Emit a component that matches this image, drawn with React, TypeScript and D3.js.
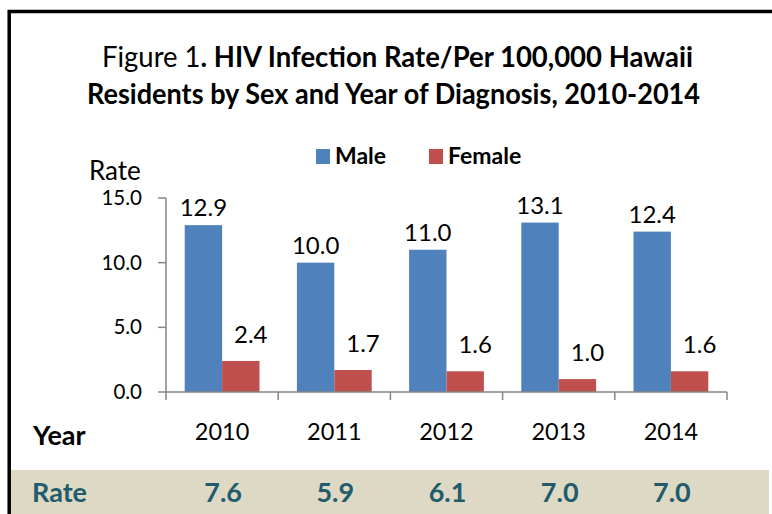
import * as d3 from 'd3';

const years = ['2010', '2011', '2012', '2013', '2014'];
const series = ['Male', 'Female'];
const maleRates = [12.9, 10.0, 11.0, 13.1, 12.4];
const femaleRates = [2.4, 1.7, 1.6, 1.0, 1.6];
const totalRates = [7.6, 5.9, 6.1, 7.0, 7.0];
const yTicks = [0, 5, 10, 15];

const colors: Record<string, string> = { Male: '#4F81BD', Female: '#C0504D' };
const FONT = "Lato, 'Open Sans', sans-serif";
const AXIS = '#868686';
const TEAL = '#225B6B';

export default function App() {
  const width = 772;
  const height = 514;

  // scales
  const x0 = d3.scaleBand<string>().domain(years).range([166, 727]);
  const x1 = d3
    .scaleBand<string>()
    .domain(series)
    .range([0, x0.bandwidth()])
    .paddingInner(0)
    .paddingOuter(0.5);
  const y = d3.scaleLinear().domain([0, 15]).range([392, 198]);
  const fmt = d3.format('.1f');

  const values: Record<string, number[]> = { Male: maleRates, Female: femaleRates };
  const boundaries = [...years.map((yr) => x0(yr) as number), 727];

  return (
    <svg
      width={width}
      height={height}
      style={{ position: 'absolute', left: 0, top: 0, background: '#fff' }}
      fontFamily={FONT}
    >
      {/* outer frame */}
      <rect x={9.2} y={11.5} width={800} height={540} fill="#fff" stroke="#000" strokeWidth={3.5} />

      {/* title */}
      <text x={397.5} y={67} textAnchor="middle" fontSize={28} textLength={591} lengthAdjust="spacingAndGlyphs">
        <tspan>Figure 1</tspan>
        <tspan fontWeight="bold">.  HIV Infection Rate/Per 100,000 Hawaii</tspan>
      </text>
      <text
        x={393.5}
        y={104}
        textAnchor="middle"
        fontSize={28}
        fontWeight="bold"
        textLength={613}
        lengthAdjust="spacingAndGlyphs"
      >
        Residents by Sex and Year of Diagnosis, 2010-2014
      </text>

      {/* legend */}
      <rect x={316} y={149} width={14} height={15} fill={colors.Male} />
      <text x={335} y={164} fontSize={23} fontWeight="bold">Male</text>
      <rect x={429} y={149} width={14} height={15} fill={colors.Female} />
      <text x={448} y={164} fontSize={23} fontWeight="bold">Female</text>

      {/* y axis title */}
      <text x={89} y={180} fontSize={26}>Rate</text>

      {/* bars */}
      {series.map((s) =>
        years.map((yr, i) => {
          const v = values[s][i];
          const bx = (x0(yr) as number) + (x1(s) as number);
          return (
            <rect
              key={s + yr}
              x={bx}
              y={y(v)}
              width={x1.bandwidth()}
              height={y(0) - y(v)}
              fill={colors[s]}
            />
          );
        })
      )}

      {/* value labels */}
      {years.map((yr, i) => {
        const mx = (x0(yr) as number) + (x1('Male') as number) + x1.bandwidth() / 2;
        const fx = (x0(yr) as number) + (x1('Female') as number) + x1.bandwidth() / 2;
        return (
          <g key={'lbl' + yr} fontSize={24}>
            <text x={mx} y={y(maleRates[i]) - 9} textAnchor="middle">
              {fmt(maleRates[i])}
            </text>
            <text x={fx + 10} y={y(femaleRates[i]) - 18} textAnchor="middle">
              {fmt(femaleRates[i])}
            </text>
          </g>
        );
      })}

      {/* y axis */}
      <line x1={166} x2={166} y1={y(15)} y2={y(0)} stroke={AXIS} strokeWidth={1.5} />
      {yTicks.map((t) => (
        <g key={'yt' + t}>
          <line x1={158} x2={166} y1={y(t)} y2={y(t)} stroke={AXIS} strokeWidth={1.5} />
          <text x={142} y={y(t) + 7} textAnchor="end" fontSize={20.5}>
            {fmt(t)}
          </text>
        </g>
      ))}

      {/* x axis */}
      <line x1={166} x2={727} y1={y(0)} y2={y(0)} stroke={AXIS} strokeWidth={1.5} />
      {boundaries.map((b, i) => (
        <line key={'xt' + i} x1={b} x2={b} y1={y(0)} y2={y(0) + 8} stroke={AXIS} strokeWidth={1.5} />
      ))}
      <text x={33} y={445} fontSize={27} fontWeight="bold">Year</text>
      {years.map((yr) => (
        <text
          key={'x' + yr}
          x={(x0(yr) as number) + x0.bandwidth() / 2}
          y={440}
          textAnchor="middle"
          fontSize={23.5}
        >
          {yr}
        </text>
      ))}

      {/* total rate row */}
      <rect x={11} y={470} width={758} height={50} fill="#DDD9C4" />
      <text x={32} y={502} fontSize={27} fontWeight="bold" fill={TEAL}>Rate</text>
      {years.map((yr, i) => (
        <text
          key={'r' + yr}
          x={(x0(yr) as number) + x0.bandwidth() / 2 + 1}
          y={502}
          textAnchor="middle"
          fontSize={27}
          fontWeight="bold"
          fill={TEAL}
        >
          {fmt(totalRates[i])}
        </text>
      ))}
    </svg>
  );
}
